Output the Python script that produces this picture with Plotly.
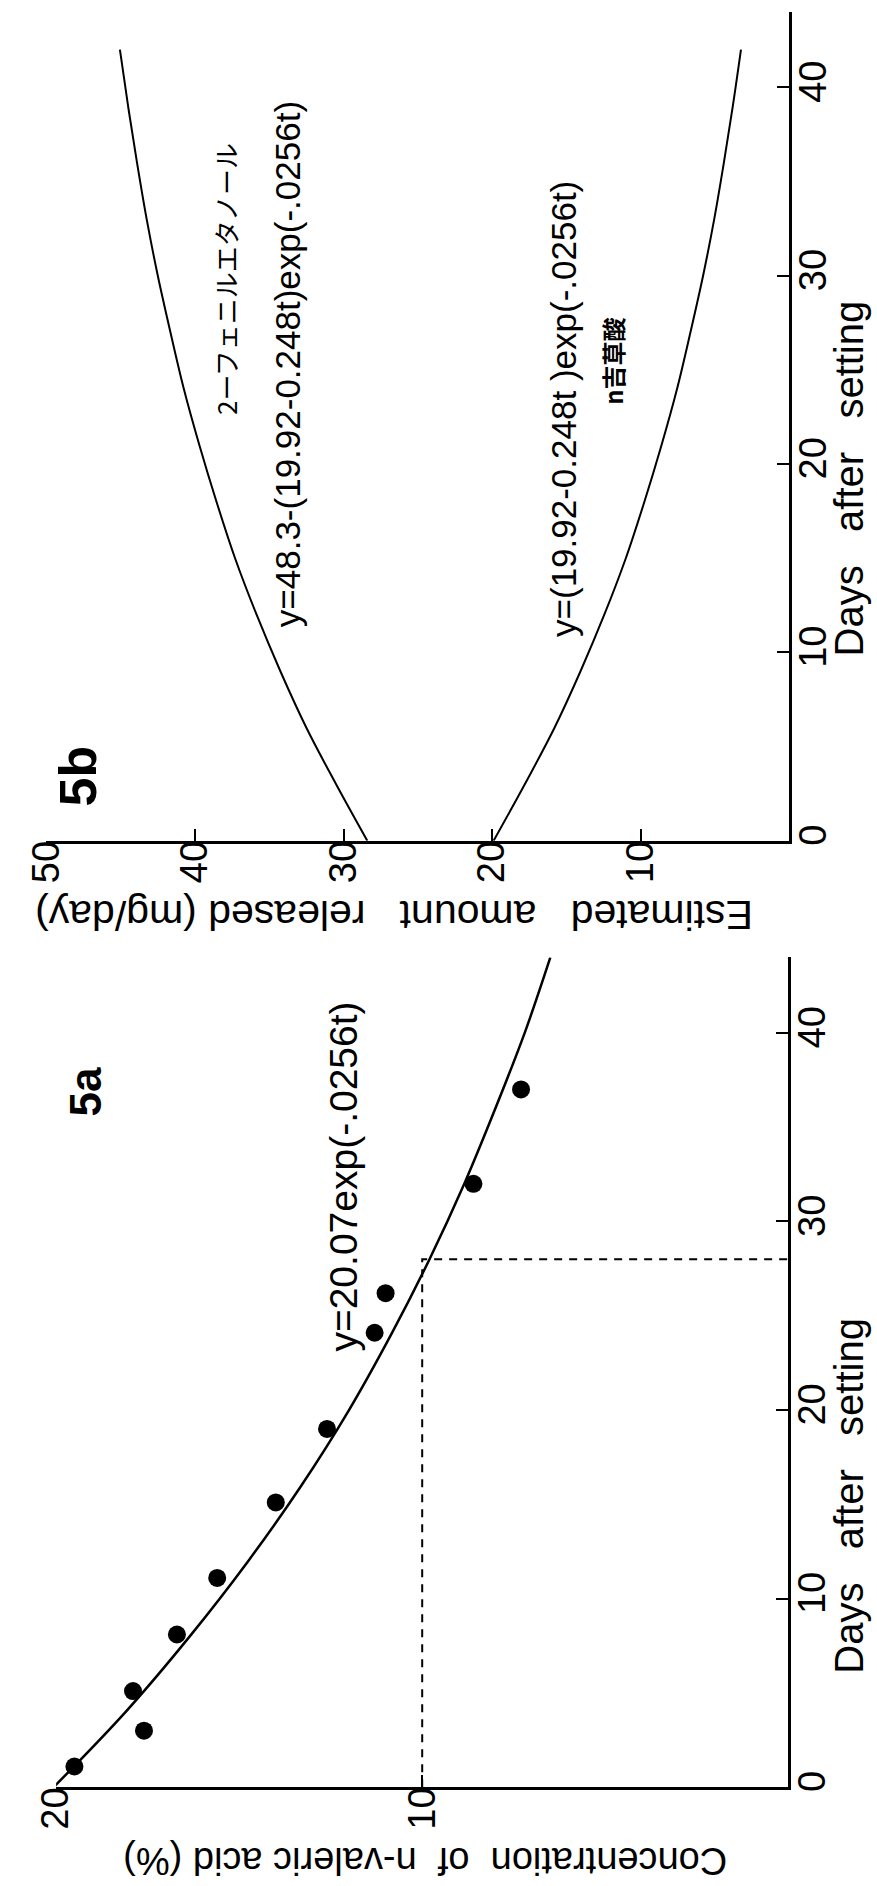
import plotly.graph_objects as go

# ---------------- data ----------------
# Panel 5a: observed concentration of n-valeric acid (%)
days_obs = [0.2, 1.1, 3.0, 5.1, 8.1, 11.1, 15.1, 19.0, 24.1, 26.2, 32.0, 37.0]
conc_obs = [20.2, 19.5, 17.6, 17.9, 16.7, 15.6, 14.0, 12.6, 11.3, 11.0, 8.6, 7.3]

# Panel 5a: fitted curve, read at 4-day steps
days_fit = [0, 4, 8, 12, 16, 20, 24, 28, 32, 36, 40, 44]
conc_fit = [20.07, 18.1, 16.35, 14.75, 13.3, 12.0, 10.85, 9.8, 8.85, 8.0, 7.2, 6.5]

# Panel 5a: dashed guide (10 % reached at about day 28)
guide_conc = [10, 10, 0]
guide_days = [0, 28, 28]

# Panel 5b: estimated released amount (mg/day), read at 3-day steps
days_b = [0, 3, 6, 9, 12, 15, 18, 21, 24, 27, 30, 33, 36, 39, 42]
acid_b = [19.9, 17.8, 15.8, 14.05, 12.45, 11.0, 9.75, 8.6, 7.55, 6.65, 5.8, 5.05, 4.4, 3.8, 3.25]
phen_b = [28.4, 30.5, 32.5, 34.25, 35.85, 37.3, 38.55, 39.7, 40.75, 41.65, 42.5, 43.25, 43.9, 44.5, 45.05]

conc_ticks = [10, 20]
amount_ticks = [10, 20, 30, 40, 50]
day_ticks = [0, 10, 20, 30, 40]

W, H = 877, 1886
FONT = "Liberation Sans, Arial, sans-serif"
JFONT = "Noto Sans CJK JP, sans-serif"


def fx(p):
    return p / W


def fy(p):
    return 1 - p / H


fig = go.Figure()

# ---- panel 5a ----
fig.add_trace(go.Scatter(x=conc_fit, y=days_fit, mode="lines", line=dict(color="black", width=2.5, shape="spline"),
                         xaxis="x", yaxis="y", hoverinfo="skip"))
fig.add_trace(go.Scatter(x=guide_conc, y=guide_days, mode="lines",
                         line=dict(color="black", width=2, dash="8px,7px"), xaxis="x", yaxis="y"))
fig.add_trace(go.Scatter(x=conc_obs, y=days_obs, mode="markers", marker=dict(color="black", size=18),
                         xaxis="x", yaxis="y", cliponaxis=False))

# ---- panel 5b ----
fig.add_trace(go.Scatter(x=phen_b, y=days_b, mode="lines", line=dict(color="black", width=2, shape="spline"),
                         xaxis="x2", yaxis="y2"))
fig.add_trace(go.Scatter(x=acid_b, y=days_b, mode="lines", line=dict(color="black", width=2, shape="spline"),
                         xaxis="x2", yaxis="y2"))

axis_common = dict(showline=True, linecolor="black", linewidth=3, ticks="inside", ticklen=12, tickwidth=2,
                   tickcolor="black", showgrid=False, zeroline=False, tickangle=-90,
                   tickfont=dict(family=FONT, size=38, color="black"))

fig.update_layout(
    width=W, height=H, margin=dict(l=0, r=0, t=0, b=0),
    paper_bgcolor="white", plot_bgcolor="white", showlegend=False,
    xaxis=dict(domain=[fx(35), fx(786)], range=[20, 0], anchor="y", tickvals=conc_ticks,
               ticklabelstandoff=-18, **axis_common),
    yaxis=dict(domain=[fy(1792), fy(960)], range=[0, 44], anchor="x", side="right", tickvals=day_ticks,
               ticklabelstandoff=-12, **axis_common),
    xaxis2=dict(domain=[fx(25), fx(787)], range=[50, 0], anchor="y2", tickvals=amount_ticks,
                ticklabelstandoff=-18, **axis_common),
    yaxis2=dict(domain=[fy(843), fy(12)], range=[0, 44], anchor="x2", side="right", tickvals=day_ticks,
                ticklabelstandoff=-12, **axis_common),
)

NB = "\u00a0"


def ann(text, x, y, size, angle=-90, family=FONT):
    fig.add_annotation(text=text, x=fx(x), y=fy(y), xref="paper", yref="paper", showarrow=False,
                       textangle=angle, xanchor="center", yanchor="middle",
                       font=dict(family=family, size=size, color="black"))


def spaced(*words, n=2):
    return (NB * n).join(words)


# panel 5a texts
ann("<b>5a</b>", 65, 1095, 44)
ann("y=20.07exp(-.0256t)", 330, 1180, 39)
ann(spaced("Days", "after", "setting", n=3), 848, 1500, 40)
ann(spaced("Concentration", "of", "n-valeric", n=2) + " acid (%)", 414, 1866, 38, angle=180)

# panel 5b texts
ann("<b>5b</b>", 57, 778, 52)
ann("2ーフェニルエタノール", 208, 280, 26, family=JFONT)
ann("y=48.3-(19.92-0.248t)exp(-.0256t)", 272, 365, 35)
ann("y=(19.92-0.248t" + NB + ")exp(-.0256t)", 556, 410, 35)
ann("<b>n吉草酸</b>", 605, 362, 24, family=JFONT)
ann(spaced("Days", "after", "setting", n=3), 848, 480, 40)
ann(spaced("Estimated", "amount", "released", n=3) + " (mg/day)", 381, 918, 41, angle=180)

fig.write_html("out.html", config={"displayModeBar": False},
               post_script="document.body.style.margin='0';")
